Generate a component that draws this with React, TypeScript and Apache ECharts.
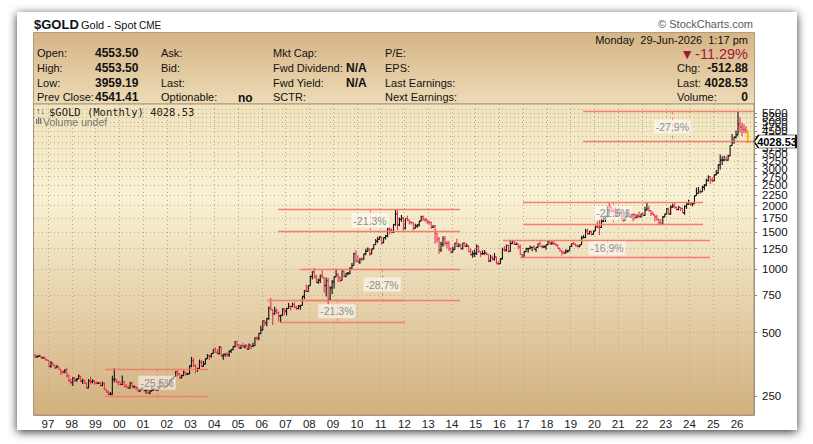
import React, { useEffect, useRef } from "react";
import * as echarts from "echarts";

// ---- data (monthly $GOLD spot, Jun 1996 .. Jun 2026) ----
const FIRST_YEAR = 1996;
const FIRST_MONTH = 6; // June
const priorClose = 391; // May 1996 close

const closes = [
  382, 385, 387, 379, 379, 371, 369, // 1996 Jun-Dec
  345, 358, 349, 340, 345, 334, 326, 325, 332, 311, 296, 290, // 1997
  304, 297, 301, 310, 293, 296, 288, 273, 294, 292, 294, 288, // 1998
  287, 287, 280, 286, 268, 261, 255, 255, 299, 300, 291, 290, // 1999
  283, 293, 278, 275, 272, 288, 276, 277, 273, 264, 270, 272, // 2000
  265, 267, 258, 264, 267, 270, 266, 273, 293, 279, 275, 279, // 2001
  282, 297, 302, 309, 326, 318, 304, 312, 324, 317, 318, 347, // 2002
  368, 348, 334, 337, 361, 346, 354, 375, 388, 386, 398, 416, // 2003
  402, 397, 427, 387, 394, 395, 391, 407, 415, 429, 453, 438, // 2004
  422, 434, 428, 435, 417, 437, 429, 433, 473, 470, 495, 513, // 2005
  568, 556, 582, 654, 643, 613, 633, 623, 599, 604, 646, 632, // 2006
  650, 665, 663, 679, 659, 650, 666, 673, 743, 789, 783, 834, // 2007
  923, 971, 917, 865, 886, 928, 913, 834, 880, 718, 814, 869, // 2008
  919, 942, 917, 884, 978, 927, 955, 955, 1001, 1040, 1182, 1096, // 2009
  1081, 1118, 1113, 1180, 1213, 1244, 1181, 1247, 1307, 1357, 1386, 1421, // 2010
  1332, 1410, 1439, 1556, 1536, 1500, 1628, 1826, 1620, 1722, 1746, 1566, // 2011
  1738, 1710, 1669, 1664, 1561, 1604, 1622, 1692, 1773, 1719, 1713, 1675, // 2012
  1663, 1578, 1596, 1476, 1393, 1234, 1313, 1396, 1327, 1323, 1250, 1202, // 2013
  1240, 1326, 1284, 1296, 1250, 1327, 1282, 1287, 1210, 1171, 1182, 1184, // 2014
  1283, 1213, 1183, 1183, 1190, 1172, 1095, 1135, 1115, 1142, 1065, 1061, // 2015
  1118, 1238, 1233, 1294, 1215, 1322, 1351, 1309, 1316, 1274, 1173, 1152, // 2016
  1210, 1249, 1249, 1268, 1269, 1242, 1269, 1322, 1280, 1271, 1275, 1303, // 2017
  1345, 1318, 1325, 1315, 1299, 1253, 1224, 1202, 1192, 1215, 1222, 1282, // 2018
  1321, 1313, 1292, 1284, 1305, 1409, 1413, 1520, 1472, 1511, 1463, 1517, // 2019
  1587, 1585, 1577, 1687, 1730, 1781, 1975, 1968, 1886, 1879, 1776, 1898, // 2020
  1847, 1734, 1708, 1769, 1906, 1770, 1814, 1813, 1757, 1783, 1774, 1829, // 2021
  1797, 1909, 1937, 1897, 1837, 1807, 1766, 1711, 1661, 1634, 1768, 1824, // 2022
  1928, 1827, 1969, 1990, 1962, 1919, 1965, 1940, 1849, 1984, 2036, 2063, // 2023
  2039, 2044, 2230, 2286, 2327, 2326, 2447, 2503, 2634, 2744, 2650, 2625, // 2024
  2798, 2858, 3124, 3289, 3289, 3303, 3290, 3448, 3858, 4000, 4230, 4330, // 2025
  4890, 4720, 4600, 4590, 4541.41, 4028.53, // 2026 Jan-Jun
];

const highs = [
  395, 390, 392, 388, 384, 384, 374,
  369, 366, 358, 352, 351, 346, 335, 330, 336, 340, 317, 301,
  307, 307, 303, 316, 311, 302, 298, 289, 301, 308, 300, 297,
  293, 291, 291, 293, 290, 269, 265, 261, 312, 338, 302, 296,
  291, 313, 294, 285, 280, 292, 291, 281, 278, 274, 271, 275,
  273, 268, 270, 266, 277, 272, 271, 279, 294, 294, 280, 281,
  285, 299, 305, 310, 328, 330, 320, 315, 330, 325, 322, 349,
  383, 377, 353, 341, 372, 370, 366, 376, 395, 392, 400, 417,
  426, 416, 430, 428, 395, 397, 403, 412, 418, 432, 456, 456,
  440, 438, 447, 438, 436, 443, 438, 447, 474, 479, 498, 538,
  570, 572, 588, 664, 730, 645, 663, 650, 628, 606, 651, 648,
  655, 690, 672, 693, 695, 668, 676, 676, 744, 796, 845, 838,
  930, 976, 1011, 940, 903, 942, 988, 914, 912, 906, 830, 888,
  920, 1005, 957, 918, 981, 985, 958, 970, 1023, 1070, 1196, 1227,
  1162, 1125, 1138, 1181, 1249, 1265, 1245, 1249, 1309, 1388, 1424, 1431,
  1424, 1412, 1447, 1566, 1577, 1560, 1632, 1913, 1921, 1758, 1804, 1764,
  1745, 1791, 1712, 1680, 1667, 1640, 1628, 1693, 1790, 1796, 1755, 1726,
  1695, 1683, 1617, 1617, 1487, 1420, 1347, 1433, 1434, 1361, 1362, 1267,
  1280, 1332, 1392, 1331, 1315, 1332, 1345, 1321, 1290, 1255, 1221, 1238,
  1307, 1290, 1220, 1224, 1232, 1205, 1174, 1170, 1157, 1192, 1145, 1088,
  1128, 1263, 1283, 1307, 1304, 1362, 1375, 1367, 1338, 1317, 1307, 1180,
  1220, 1264, 1262, 1295, 1273, 1296, 1270, 1326, 1357, 1306, 1299, 1307,
  1366, 1361, 1356, 1369, 1326, 1309, 1265, 1228, 1214, 1243, 1237, 1284,
  1326, 1347, 1324, 1310, 1306, 1439, 1452, 1555, 1557, 1519, 1516, 1523,
  1611, 1689, 1703, 1747, 1765, 1789, 1984, 2075, 1992, 1933, 1965, 1907,
  1959, 1871, 1755, 1798, 1916, 1916, 1832, 1834, 1836, 1814, 1877, 1831,
  1853, 1974, 2070, 1998, 1910, 1879, 1814, 1807, 1735, 1729, 1786, 1833,
  1949, 1959, 2009, 2048, 2079, 1984, 1987, 1966, 1953, 2009, 2052, 2135,
  2065, 2052, 2236, 2431, 2450, 2388, 2483, 2531, 2685, 2790, 2762, 2726,
  2817, 2956, 3148, 3500, 3435, 3452, 3439, 3489, 3871, 4381, 4245, 4550,
  5590, 5250, 4950, 4880, 4760, 4553.5,
];

const lows = [
  380, 380, 383, 377, 376, 369, 366,
  342, 340, 346, 336, 339, 333, 314, 318, 320, 306, 290, 283,
  279, 290, 292, 300, 291, 285, 286, 271, 272, 283, 287, 283,
  284, 285, 278, 278, 267, 258, 252, 252, 253, 290, 288, 280,
  281, 282, 276, 272, 270, 271, 275, 272, 267, 262, 262, 266,
  263, 256, 256, 255, 263, 265, 265, 264, 270, 276, 271, 272,
  277, 281, 290, 300, 308, 312, 303, 303, 311, 313, 315, 317,
  342, 344, 320, 325, 336, 343, 343, 353, 374, 370, 380, 396,
  400, 395, 393, 386, 371, 384, 384, 384, 400, 412, 424, 427,
  418, 418, 424, 421, 414, 416, 417, 428, 432, 459, 460, 491,
  512, 539, 536, 574, 637, 543, 608, 612, 563, 560, 600, 605,
  602, 646, 636, 662, 650, 640, 644, 641, 672, 722, 776, 782,
  833, 892, 904, 864, 850, 860, 904, 773, 741, 681, 706, 759,
  808, 916, 869, 866, 883, 914, 911, 933, 945, 1000, 1039, 1075,
  1072, 1058, 1088, 1112, 1163, 1208, 1157, 1176, 1243, 1306, 1330, 1378,
  1309, 1330, 1380, 1418, 1462, 1478, 1482, 1603, 1532, 1603, 1676, 1522,
  1540, 1688, 1627, 1626, 1526, 1555, 1565, 1592, 1687, 1696, 1672, 1635,
  1627, 1555, 1567, 1321, 1338, 1180, 1207, 1275, 1293, 1251, 1221, 1187,
  1200, 1238, 1277, 1268, 1240, 1240, 1281, 1272, 1205, 1160, 1131, 1142,
  1167, 1191, 1142, 1169, 1170, 1162, 1077, 1080, 1098, 1098, 1052, 1046,
  1061, 1110, 1208, 1212, 1200, 1208, 1311, 1304, 1302, 1241, 1171, 1123,
  1146, 1208, 1195, 1245, 1214, 1237, 1205, 1266, 1275, 1261, 1264, 1236,
  1302, 1307, 1303, 1302, 1282, 1250, 1211, 1160, 1180, 1182, 1196, 1221,
  1276, 1309, 1281, 1266, 1268, 1301, 1401, 1400, 1459, 1459, 1445, 1454,
  1517, 1563, 1451, 1568, 1670, 1671, 1757, 1863, 1849, 1860, 1764, 1775,
  1803, 1717, 1677, 1705, 1765, 1750, 1750, 1687, 1721, 1746, 1759, 1753,
  1780, 1786, 1895, 1872, 1787, 1805, 1681, 1709, 1615, 1617, 1617, 1763,
  1823, 1804, 1810, 1949, 1932, 1893, 1903, 1885, 1846, 1810, 1931, 2016,
  2002, 1984, 2035, 2228, 2277, 2286, 2320, 2364, 2471, 2604, 2537, 2583,
  2614, 2790, 2832, 2970, 3120, 3247, 3268, 3268, 3436, 3850, 3930, 4170,
  4320, 4450, 4280, 4420, 4400, 3959.19,
];

// y-axis tick labels (log scale)
const yTickValues = [250, 500, 750, 1000, 1250, 1500, 1750, 2000, 2250, 2500, 2750, 3000, 3250, 3500, 3750, 4000, 4250, 4500, 4750, 5000, 5250, 5500, 5750];
// x-axis year labels (January of each year)
const yearTicks = [1997, 1998, 1999, 2000, 2001, 2002, 2003, 2004, 2005, 2006, 2007, 2008, 2009, 2010, 2011, 2012, 2013, 2014, 2015, 2016, 2017, 2018, 2019, 2020, 2021, 2022, 2023, 2024, 2025, 2026];

// percentage-drop annotations (dates as fractional years, prices)
const annLabels = ["-25.5%", "-21.3%", "-28.7%", "-21.3%", "-16.9%", "-21.5%", "-27.9%"];
const annTop = [335, 712, 1000, 1915, 1376, 2085, 5590];
const annBottom = [249.6, 560, 713, 1507, 1143, 1637, 4030];
const annTopStart = [1999.4, 2006.22, 2007.61, 2006.68, 2016.15, 2016.99, 2019.52];
const annBottomStart = [1999.4, 2006.77, 2007.61, 2006.68, 2016.87, 2016.99, 2019.52];
const annEnd = [2003.73, 2012.03, 2014.34, 2014.34, 2024.86, 2024.57, 2026.71];
const annMid = [2001.59, 2009.16, 2011.06, 2010.55, 2020.53, 2020.78, 2023.28];

// header quote
const quoteLeft = [
  ["Open:", "4553.50"],
  ["High:", "4553.50"],
  ["Low:", "3959.19"],
  ["Prev Close:", "4541.41"],
];
const quoteCol2 = [["Ask:", ""], ["Bid:", ""], ["Last:", ""], ["Optionable:", "no"]];
const quoteCol3 = [["Mkt Cap:", ""], ["Fwd Dividend:", "N/A"], ["Fwd Yield:", "N/A"], ["SCTR:", ""]];
const quoteCol4 = ["P/E:", "EPS:", "Last Earnings:", "Next Earnings:"];
const quoteRight = [["Chg:", "-512.88"], ["Last:", "4028.53"], ["Volume:", "0"]];
const quoteDate = "Monday  29-Jun-2026  1:17 pm";
const quotePct = "-11.29%";

const F = "'Liberation Sans', Arial, sans-serif";
const MONO = "'DejaVu Sans Mono', monospace";
const UP = "#111111";
const DOWN = "#e8334f";
const LAST = "#f2c200";
const ANN = "#f27a68";

function txt(text: string, x: number, y: number, o: any = {}) {
  return {
    type: "text",
    z: 20,
    silent: true,
    style: {
      text,
      x,
      y,
      fill: o.fill || "#111",
      font: `${o.weight || "normal"} ${o.size || 11}px ${o.family || F}`,
      align: o.align || "left",
      verticalAlign: "middle",
    },
  };
}

function buildOption() {
  const n = closes.length;
  // x position in fractional years, middle of each month
  const times = closes.map((_, i) => {
    const m = FIRST_MONTH - 1 + i;
    return FIRST_YEAR + Math.floor(m / 12) + ((m % 12) + 0.5) / 12;
  });
  const ohlc = closes.map((c, i) => [times[i], c, highs[i], lows[i]]);
  const prev = (i: number) => (i === 0 ? priorClose : closes[i - 1]);
  const colors = closes.map((c, i) => (i === n - 1 ? LAST : c >= prev(i) ? UP : DOWN));

  const xMin = 1996.411;
  const xMax = 2026.714;

  const lines: any[] = [];
  const labels: any[] = [];
  annLabels.forEach((lab, k) => {
    lines.push([{ coord: [annTopStart[k], annTop[k]] }, { coord: [annEnd[k], annTop[k]] }]);
    lines.push([{ coord: [annBottomStart[k], annBottom[k]] }, { coord: [annEnd[k], annBottom[k]] }]);
    lines.push([
      { coord: [annMid[k], annTop[k]], lineStyle: { type: [3, 3], width: 1 } },
      { coord: [annMid[k], annBottom[k]] },
    ]);
    labels.push({ name: lab, coord: [annMid[k], Math.sqrt(annTop[k] * annBottom[k])] });
  });

  const yy = (v: number) => String(Math.round(v) % 100).padStart(2, "0");

  const plotL = 34, plotT = 104, plotR = 754, plotB = 415;

  const graphic: any[] = [
    {
      type: "rect", z: -20, silent: true,
      shape: { x: 17, y: 12, width: 780, height: 418 },
      style: { fill: "#ffffff", shadowBlur: 10, shadowColor: "rgba(0,0,0,0.8)", shadowOffsetX: 0, shadowOffsetY: 2 },
    },
    {
      type: "rect", z: -10, silent: true,
      shape: { x: 33.5, y: 32.5, width: 721, height: 71.5 },
      style: {
        fill: new echarts.graphic.LinearGradient(0, 0, 0, 1, [
          { offset: 0, color: "#d6b486" },
          { offset: 1, color: "#eddbb6" },
        ]),
        stroke: "#b29c7c", lineWidth: 1,
      },
    },
    {
      type: "rect", z: -10, silent: true,
      shape: { x: plotL, y: plotT, width: plotR - plotL, height: plotB - plotT },
      style: {
        fill: new echarts.graphic.LinearGradient(0, 0, 0, 1, [
          { offset: 0, color: "#f0e3bd" },
          { offset: 0.3, color: "#f9f1d4" },
          { offset: 1, color: "#d2b07f" },
        ]),
      },
    },
    {
      type: "rect", z: 15, silent: true,
      shape: { x: 33.5, y: 104, width: 720.5, height: plotB - plotT },
      style: { fill: "none", stroke: "#a8977e", lineWidth: 1 },
    },
    txt("$GOLD", 34, 24, { weight: "bold", size: 13 }),
    txt("Gold - Spot", 81, 25, { size: 11 }),
    txt("CME", 139, 25.5, { size: 10 }),
    txt("\u00A9 StockCharts.com", 753, 24, { size: 11, fill: "#5a5a5a", align: "right" }),
    txt("\u2191\u2193", 36, 111, { size: 9, fill: "#444" }),
    txt("$GOLD (Monthly) " + closes[n - 1].toFixed(2), 49, 111.5, { size: 10.5, family: MONO, fill: "#222" }),
    { type: "rect", z: 20, silent: true, shape: { x: 36, y: 119, width: 1.3, height: 5 }, style: { fill: "#777" } },
    { type: "rect", z: 20, silent: true, shape: { x: 38, y: 117, width: 1.3, height: 7 }, style: { fill: "#777" } },
    { type: "rect", z: 20, silent: true, shape: { x: 40, y: 118, width: 1.3, height: 6 }, style: { fill: "#777" } },
    txt("Volume undef", 43, 122, { size: 10.5, fill: "#777" }),
    txt(quoteDate, 748, 39.5, { size: 11, align: "right" }),
    txt("\u25BC", 694, 53.5, { size: 14, fill: "#a5163a", align: "right" }),
    txt(quotePct, 748, 53.5, { size: 14.5, fill: "#a5163a", align: "right" }),
  ];
  const rowY = [53, 68, 82.5, 97];
  quoteLeft.forEach(([l, v], i) => {
    graphic.push(txt(l, 37, rowY[i]));
    graphic.push(txt(v, 95, rowY[i], { weight: "bold", size: 12 }));
  });
  quoteCol2.forEach(([l, v], i) => {
    graphic.push(txt(l, 161, rowY[i]));
    if (v) graphic.push(txt(v, 238, rowY[i] + 1, { weight: "bold", size: 12 }));
  });
  quoteCol3.forEach(([l, v], i) => {
    graphic.push(txt(l, 273, rowY[i]));
    if (v) graphic.push(txt(v, 346, rowY[i], { weight: "bold", size: 12 }));
  });
  quoteCol4.forEach((l, i) => graphic.push(txt(l, 385, rowY[i])));
  quoteRight.forEach(([l, v], i) => {
    graphic.push(txt(l, 677, rowY[i + 1]));
    graphic.push(txt(v, 748, rowY[i + 1], { weight: "bold", size: 12, align: "right" }));
  });

  return {
    animation: false,
    backgroundColor: "#ffffff",
    textStyle: { fontFamily: F },
    grid: { left: plotL, top: plotT, right: 813 - plotR, bottom: 444 - plotB, containLabel: false },
    graphic,
    xAxis: {
      type: "value",
      min: xMin,
      max: xMax,
      axisLine: { show: true, lineStyle: { color: "#a8977e" } },
      axisTick: { show: false, customValues: yearTicks },
      axisLabel: {
        customValues: yearTicks,
        formatter: (v: number) => yy(v),
        color: "#222",
        fontSize: 11.5,
        fontFamily: F,
        margin: 3,
        hideOverlap: false,
      },
      splitLine: { show: true, lineStyle: { color: "#b9aa8a", type: [1, 3], width: 1 } },
    },
    yAxis: {
      type: "log",
      logBase: 10,
      min: 203,
      max: 6075,
      position: "right",
      axisLine: { show: true, lineStyle: { color: "#8f887c" } },
      axisTick: { show: true, length: 3, customValues: yTickValues, lineStyle: { color: "#8f887c" } },
      axisLabel: {
        customValues: yTickValues,
        formatter: (v: number) => String(Math.round(v)),
        color: "#111",
        fontSize: 11.5,
        fontFamily: F,
        margin: 8,
        hideOverlap: false,
      },
      splitLine: { show: true, lineStyle: { color: "#b9aa8a", type: [1, 3], width: 1 } },
    },
    series: [
      {
        type: "line",
        name: "annotations",
        data: [],
        z: 2,
        silent: true,
        markLine: {
          silent: true,
          symbol: ["none", "none"],
          label: { show: false },
          lineStyle: { color: ANN, width: 1.4, type: "solid", opacity: 0.95 },
          data: lines,
        },
        markPoint: {
          silent: true,
          symbol: "circle",
          symbolSize: 1,
          itemStyle: { color: "rgba(0,0,0,0)" },
          label: {
            show: true,
            position: "inside",
            formatter: "{b}",
            color: "#8e8e8e",
            fontSize: 10.5,
            fontFamily: F,
            backgroundColor: "rgba(255,255,255,0.55)",
            padding: [2, 2, 1, 2],
          },
          data: labels,
        },
      },
      {
        type: "custom",
        name: "$GOLD",
        z: 3,
        silent: true,
        data: ohlc,
        encode: { x: 0, y: [1, 2, 3] },
        renderItem: (params: any, api: any) => {
          const i = params.dataIndex;
          const t = api.value(0);
          const pH = api.coord([t, api.value(2)]);
          const pL = api.coord([t, api.value(3)]);
          const pC = api.coord([t, api.value(1)]);
          const pO = api.coord([t, prev(i)]);
          const col = colors[i];
          const w = i === n - 1 ? 2 : 1.1;
          return {
            type: "group",
            children: [
              { type: "line", shape: { x1: pH[0], y1: pH[1], x2: pL[0], y2: pL[1] }, style: { stroke: col, lineWidth: w } },
              { type: "line", shape: { x1: pO[0] - 1.6, y1: pO[1], x2: pO[0], y2: pO[1] }, style: { stroke: col, lineWidth: 1 } },
              { type: "line", shape: { x1: pC[0], y1: pC[1], x2: pC[0] + 1.6, y2: pC[1] }, style: { stroke: col, lineWidth: 1 } },
            ],
          };
        },
      },
      {
        type: "line",
        name: "lastTag",
        data: [],
        z: 6,
        silent: true,
        markPoint: {
          silent: true,
          symbol: "path://M0 6 L5 0 L46 0 L46 12 L5 12 Z",
          symbolSize: [42, 13],
          symbolKeepAspect: false,
          symbolOffset: ["50%", 0],
          itemStyle: { color: "#ffffff", borderColor: "#000000", borderWidth: 1 },
          label: {
            show: true,
            position: "inside",
            formatter: closes[n - 1].toFixed(2),
            color: "#000",
            fontWeight: "bold",
            fontSize: 11,
            fontFamily: F,
            offset: [2, 0],
          },
          data: [{ coord: [xMax, closes[n - 1]] }],
        },
      },
    ],
  };
}

export default function App() {
  const ref = useRef<HTMLDivElement>(null);
  useEffect(() => {
    if (!ref.current) return;
    const chart = echarts.init(ref.current, undefined, { renderer: "svg" });
    chart.setOption(buildOption() as any);
    return () => chart.dispose();
  }, []);
  return <div ref={ref} style={{ position: "fixed", left: 0, top: 0, width: 813, height: 444 }} />;
}
